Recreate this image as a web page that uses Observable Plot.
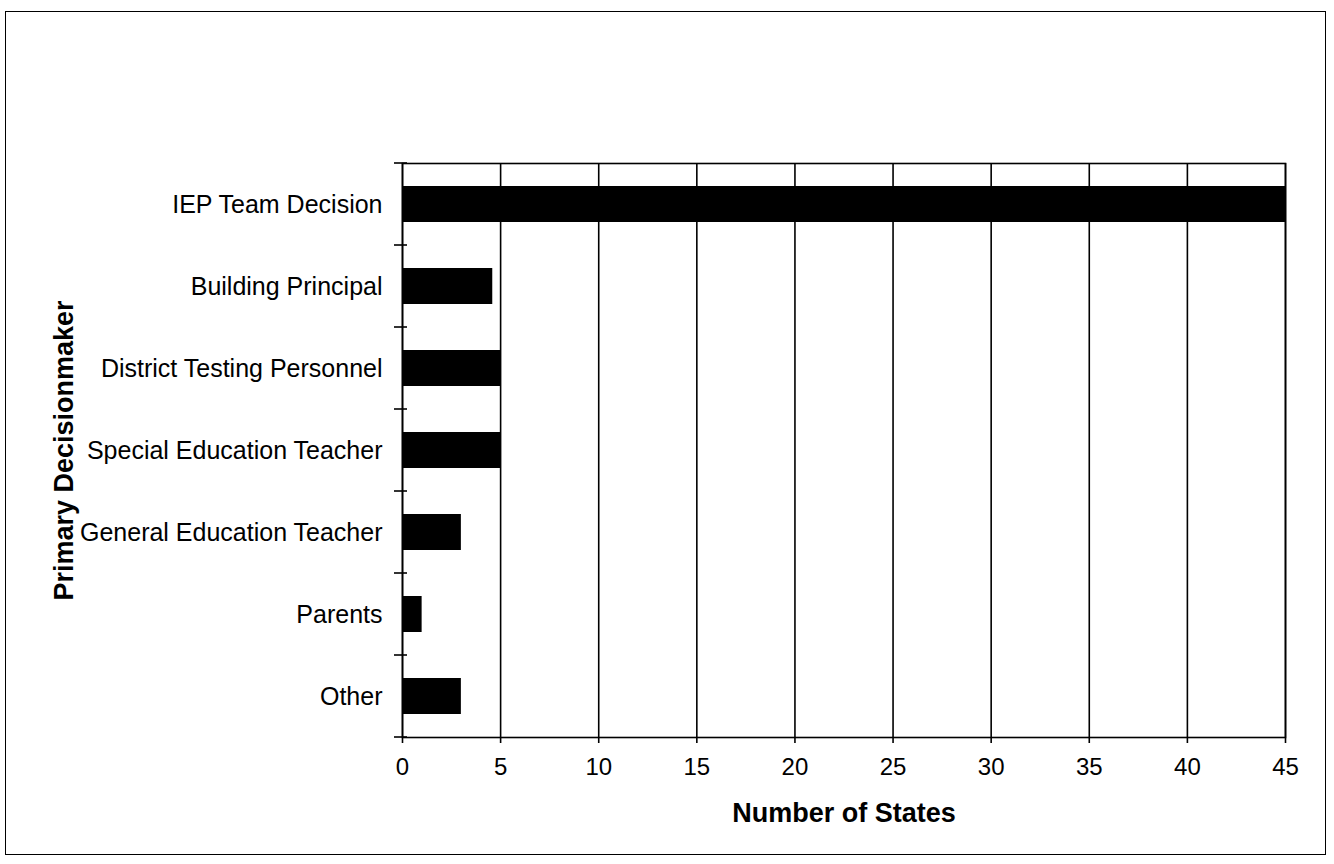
<!DOCTYPE html>
<html>
<head>
<meta charset="utf-8">
<script src="https://cdn.jsdelivr.net/npm/d3@7"></script>
<script src="https://cdn.jsdelivr.net/npm/@observablehq/plot@0.6"></script>
<style>
  html, body { margin: 0; padding: 0; background: #fff; }
  #wrap { position: relative; width: 1334px; height: 864px; overflow: hidden; }
  #border { position: absolute; left: 5px; top: 11px; width: 1319px; height: 842px; border: 1.5px solid #000; box-sizing: content-box; pointer-events: none; }
  svg { font-family: "Liberation Sans", Arial, sans-serif; }
</style>
</head>
<body>
<div id="wrap"><div id="border"></div></div>
<script>
const categories = [
  "IEP Team Decision",
  "Building Principal",
  "District Testing Personnel",
  "Special Education Teacher",
  "General Education Teacher",
  "Parents",
  "Other"
];
const values = [45, 4.6, 5, 5, 3, 1, 3];
const xTicks = [0, 5, 10, 15, 20, 25, 30, 35, 40, 45];
const xTitle = "Number of States";
const yTitle = "Primary Decisionmaker";

const data = categories.map((c, i) => ({category: c, value: values[i]}));

function boundaryTicks(index, scales) {
  const y = scales.y, x = scales.x;
  const bw = y.bandwidth();
  const step = y.step ? y.step() : bw / (1 - 0.56);
  const x0 = x(0);
  const g = d3.create("svg:g").attr("stroke", "#000").attr("stroke-width", 1.6);
  const ys = categories.map(c => y(c) + bw / 2 - step / 2);
  ys.push(y(categories[categories.length - 1]) + bw / 2 + step / 2);
  for (const yy of ys) {
    g.append("line").attr("x1", x0 - 8).attr("x2", x0 + 5).attr("y1", yy).attr("y2", yy);
  }
  return g.node();
}

const chart = Plot.plot({
  width: 1334,
  height: 864,
  marginLeft: 402,
  marginRight: 49,
  marginTop: 163,
  marginBottom: 127,
  style: {fontFamily: "'Liberation Sans', Arial, sans-serif", color: "#000", background: "transparent"},
  x: {domain: [0, 45], nice: false},
  y: {domain: categories, paddingInner: 0.56, paddingOuter: 0.28},
  marks: [
    Plot.ruleX(xTicks, {x: d => d, stroke: "#000", strokeWidth: 1.6}),
    Plot.barX(data, {y: "category", x: "value", fill: "#000"}),
    Plot.frame({stroke: "#000", strokeWidth: 1.6}),
    boundaryTicks,
    Plot.axisX({ticks: xTicks, tickSize: 6, tickPadding: 14, fontSize: 24, label: null, strokeWidth: 1.6}),
    Plot.axisY({tickSize: 0, tickPadding: 20, fontSize: 25, label: null}),
    Plot.text([xTitle], {frameAnchor: "bottom", dy: 84, fontSize: 27, fontWeight: "bold", text: d => d}),
    Plot.text([yTitle], {frameAnchor: "left", dx: -338, rotate: -90, textAnchor: "middle", fontSize: 27, fontWeight: "bold", text: d => d})
  ]
});
chart.style.position = "absolute";
chart.style.left = "0px";
chart.style.top = "0px";
document.getElementById("wrap").appendChild(chart);
</script>
</body>
</html>
